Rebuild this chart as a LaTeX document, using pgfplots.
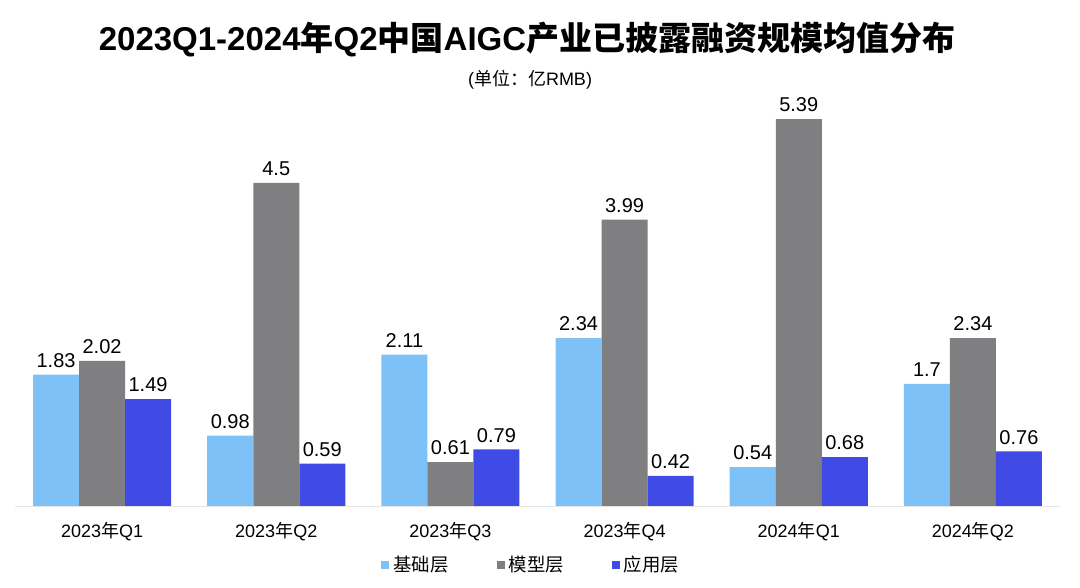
\documentclass[border=0pt]{standalone}
\usepackage{fontspec}
\usepackage{pgfplots}
\pgfplotsset{compat=1.18}
\setmainfont{Liberation Sans}
\newfontfamily\cjk{Noto Sans CJK SC}
\definecolor{cA}{HTML}{7DC1F7}
\definecolor{cB}{HTML}{7F7E80}
\definecolor{cC}{HTML}{3F4BE4}
\begin{document}
\begin{tikzpicture}[x=1pt,y=1pt]
\useasboundingbox (0,0) rectangle (540,294);
\node[font=\fontsize{16.5}{18}\selectfont\bfseries] at (263.5,274) {2023Q1-2024{\cjk\bfseries 年}Q2{\cjk\bfseries 中国}AIGC{\cjk\bfseries 产业已披露融资规模均值分布}};
\node[font=\fontsize{9}{10}\selectfont] at (265,254) {({\cjk 单位：亿}RMB)};
\begin{axis}[
  at={(7.5pt,41pt)}, anchor=south west,
  scale only axis, width=522.5pt, height=204.6pt,
  xmin=-0.5, xmax=5.5, ymin=0, ymax=5.7,
  ybar=0pt, bar width=23pt,
  hide y axis,
  axis x line=bottom,
  x axis line style={draw=black!10, -},
  xtick={0,1,2,3,4,5},
  xticklabels={2023{\cjk 年}Q1,2023{\cjk 年}Q2,2023{\cjk 年}Q3,2023{\cjk 年}Q4,2024{\cjk 年}Q1,2024{\cjk 年}Q2},
  xtick style={draw=none},
  xticklabel style={font=\fontsize{9}{10}\selectfont, yshift=-2.5pt},
  nodes near coords,
  nodes near coords style={font=\fontsize{10}{11}\selectfont, color=black, /pgf/number format/assume math mode=true},
  point meta=explicit symbolic,
  legend columns=3,
  legend style={at={(0.495,-0.144)}, anchor=center, draw=none, font=\cjk\fontsize{9.2}{10}\selectfont,
    /tikz/every even column/.append style={column sep=22pt}},
  legend image code/.code={\path[#1,draw=none] (0pt,-2pt) rectangle (4pt,2pt);},
]
\addplot[fill=cA, draw=none] coordinates {(0,1.83)[1.83] (1,0.98)[0.98] (2,2.11)[2.11] (3,2.34)[2.34] (4,0.54)[0.54] (5,1.7)[1.7]};
\addplot[fill=cB, draw=none] coordinates {(0,2.02)[2.02] (1,4.5)[4.5] (2,0.61)[0.61] (3,3.99)[3.99] (4,5.39)[5.39] (5,2.34)[2.34]};
\addplot[fill=cC, draw=none] coordinates {(0,1.49)[1.49] (1,0.59)[0.59] (2,0.79)[0.79] (3,0.42)[0.42] (4,0.68)[0.68] (5,0.76)[0.76]};
\legend{基础层,模型层,应用层}
\end{axis}
\end{tikzpicture}
\end{document}
